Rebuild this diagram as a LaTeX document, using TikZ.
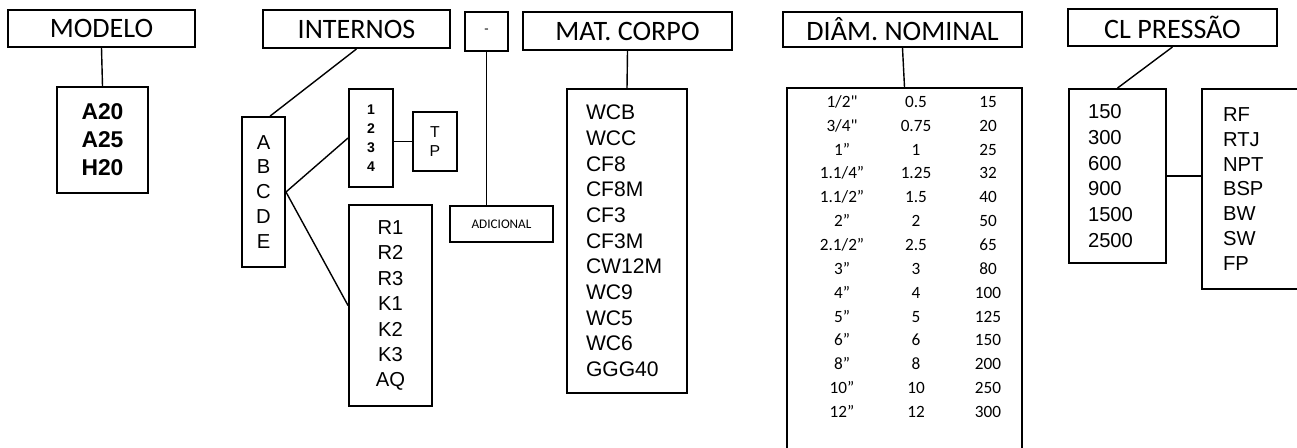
\documentclass[tikz,border=0pt]{standalone}
\usepackage{fontspec}
\setmainfont{Liberation Sans}
\newfontfamily\calibri{Carlito}
\usepackage{tikz}

\begin{document}
\begin{tikzpicture}[
  x=0.02cm, y=-0.02cm,
  every node/.style={inner sep=0pt},
  hdr/.style={draw,line width=1.1pt,font={\calibri\fontsize{16}{19}\selectfont}},
  box/.style={draw,line width=1.1pt,align=center},
  lst/.style={draw,line width=1.1pt,align=left,inner ysep=0pt},
  cell/.style={font={\calibri\fontsize{9.8}{12}\selectfont},text height=7pt,text depth=2pt},
  lnk/.style={line width=0.8pt}
]
\useasboundingbox (0,0) rectangle (1297,448);
\clip (0,0) rectangle (1297,448);

%% Headers
\node[hdr,minimum width=3.74cm,minimum height=0.74cm] (modelo)   at (101.5,28.5) {MODELO};
\node[hdr,minimum width=3.74cm,minimum height=0.76cm] (internos) at (356.5,29)   {INTERNOS};
\node[hdr,minimum width=0.86cm,minimum height=0.78cm,
      font={\calibri\fontsize{8}{10}\selectfont}]      (traco)    at (486.5,31.5) {-};
\node[hdr,minimum width=4.18cm,minimum height=0.76cm] (corpo)    at (627.5,31)   {MAT. CORPO};
\node[hdr,minimum width=4.78cm,minimum height=0.70cm] (diam)     at (902.5,29.5) {DIÂM. NOMINAL};
\node[hdr,minimum width=4.18cm,minimum height=0.74cm] (classe)   at (1172.5,27.5) {CL PRESSÃO};

%% Modelo
\node[box,minimum width=1.82cm,minimum height=2.12cm,
      font={\bfseries\fontsize{13}{15.9}\selectfont}] (modelos) at (102.5,140) {A20\\A25\\H20};

%% Internos
\node[box,minimum width=0.86cm,minimum height=3.0cm,
      font={\fontsize{11.5}{14.2}\selectfont}] (letras) at (263.5,192) {A\\B\\C\\D\\E};
\node[box,minimum width=0.88cm,minimum height=1.96cm,
      font={\bfseries\fontsize{8}{10.9}\selectfont}] (nums) at (371,138) {1\\2\\3\\4};
\node[box,minimum width=0.88cm,minimum height=1.18cm,
      font={\fontsize{9}{10.8}\selectfont}] (tp) at (435,141.5) {T\\P};
\node[box,minimum width=1.66cm,minimum height=4.02cm,
      font={\fontsize{11.5}{14.5}\selectfont}] (rk) at (390.5,305.5) {R1\\R2\\R3\\K1\\K2\\K3\\AQ};

%% Adicional
\node[box,minimum width=2.06cm,minimum height=0.72cm,
      font={\calibri\fontsize{7.5}{9}\selectfont}] (adic) at (501.5,224) {ADICIONAL};

%% Material do corpo
\node[lst,text width=1.64cm,inner xsep=0.38cm,minimum height=6.08cm,
      font={\fontsize{12}{14.6}\selectfont}] (mats) at (627,241)
      {WCB\\WCC\\CF8\\CF8M\\CF3\\CF3M\\CW12M\\WC9\\WC5\\WC6\\GGG40};

%% Diametro nominal
\node[draw,line width=1.1pt,minimum width=4.7cm,minimum height=7.64cm] (tabela) at (904.5,279) {};
\foreach \a/\b/\c [count=\i] in {{1/2"}/0.5/15,{3/4"}/0.75/20,{1”}/1/25,{1.1/4”}/1.25/32,
    {1.1/2”}/1.5/40,{2”}/2/50,{2.1/2”}/2.5/65,{3”}/3/80,{4”}/4/100,{5”}/5/125,
    {6”}/6/150,{8”}/8/200,{10”}/10/250,{12”}/12/300}{
  \node[cell] (dn\i) at (842,{103+23.85*(\i-1)}) {\a};
  \node[cell] (dm\i) at (916,{103+23.85*(\i-1)}) {\b};
  \node[cell] (dd\i) at (988,{103+23.85*(\i-1)}) {\c};
}

%% Classe de pressao e extremidades
\node[lst,text width=1.18cm,inner xsep=0.38cm,minimum height=3.48cm,
      font={\fontsize{11.5}{14.6}\selectfont}] (pres) at (1117.5,176)
      {150\\300\\600\\900\\1500\\2500};
\node[lst,text width=1.32cm,inner xsep=0.42cm,minimum height=4.0cm,
      font={\fontsize{11.5}{14.1}\selectfont}] (ext) at (1256,189)
      {RF\\RTJ\\NPT\\BSP\\BW\\SW\\FP};

%% Ligacoes
\draw[lnk] (modelo.south) -- (modelos.north);
\draw[lnk] (internos.south) -- (letras.85);
\draw[lnk] (letras.east) -- (nums.west);
\draw[lnk] (letras.east) -- (rk.west);
\draw[lnk] (tp.west -| nums.east) -- (tp.west);
\draw[lnk] (traco.south) -- (traco.south |- adic.north);
\draw[lnk] (corpo.south) -- (mats.north);
\draw[lnk] (diam.south) -- (tabela.north);
\draw[lnk] (classe.south) -- (pres.north);
\draw[line width=1.6pt] (pres.east) -- (pres.east -| ext.west);

\end{tikzpicture}
\end{document}
